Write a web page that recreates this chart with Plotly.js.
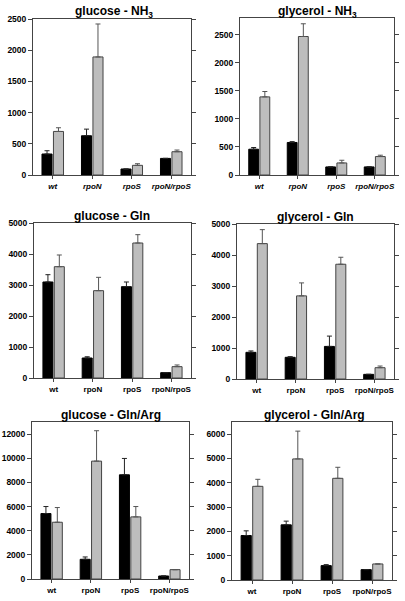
<!DOCTYPE html>
<html>
<head>
<meta charset="utf-8">
<script src="https://cdn.plot.ly/plotly-3.0.1.min.js"></script>
<style>html,body{margin:0;padding:0;background:#fff;}#chart{width:405px;height:601px;}</style>
</head>
<body>
<div id="chart"></div>
<script>
// Categories (strains)
const strains = ["wt", "rpoN", "rpoS", "rpoN/rpoS"];

// Panel titles
const panelTitles = [
  "glucose - NH<sub>3</sub>", "glycerol - NH<sub>3</sub>",
  "glucose - Gln", "glycerol - Gln",
  "glucose - Gln/Arg", "glycerol - Gln/Arg"
];

// Black bars (first series) and upper error amounts
const blackGlucoseNH3 = [336, 629, 96, 266];
const blackGlucoseNH3Err = [53, 106, 0, 0];
const grayGlucoseNH3 = [698, 1892, 155, 373];
const grayGlucoseNH3Err = [59, 528, 26, 27];

const blackGlycerolNH3 = [460, 580, 144, 144];
const blackGlycerolNH3Err = [30, 15, 0, 0];
const grayGlycerolNH3 = [1393, 2470, 215, 329];
const grayGlycerolNH3Err = [96, 227, 48, 24];

const blackGlucoseGln = [3097, 645, 2946, 172];
const blackGlucoseGlnErr = [236, 40, 151, 0];
const grayGlucoseGln = [3591, 2817, 4355, 366];
const grayGlucoseGlnErr = [377, 430, 269, 54];

const blackGlycerolGln = [860, 700, 1051, 150];
const blackGlycerolGlnErr = [45, 20, 333, 0];
const grayGlycerolGln = [4367, 2682, 3702, 365];
const grayGlycerolGlnErr = [451, 418, 225, 53];

const blackGlucoseGlnArg = [5420, 1631, 8627, 249];
const blackGlucoseGlnArgErr = [580, 194, 1355, 0];
const grayGlucoseGlnArg = [4700, 9761, 5143, 774];
const grayGlucoseGlnArgErr = [1217, 2516, 857, 0];

const blackGlycerolGlnArg = [1830, 2270, 592, 427];
const blackGlycerolGlnArgErr = [193, 152, 41, 0];
const grayGlycerolGlnArg = [3853, 4981, 4183, 660];
const grayGlycerolGlnArgErr = [289, 1143, 454, 0];

// Axis tick settings
const yMax = [2500, 2800, 5000, 5000, 13000, 6500];
const yDtick = [500, 500, 1000, 1000, 2000, 1000];

const blackSets = [
  [blackGlucoseNH3, blackGlucoseNH3Err], [blackGlycerolNH3, blackGlycerolNH3Err],
  [blackGlucoseGln, blackGlucoseGlnErr], [blackGlycerolGln, blackGlycerolGlnErr],
  [blackGlucoseGlnArg, blackGlucoseGlnArgErr], [blackGlycerolGlnArg, blackGlycerolGlnArgErr]
];
const graySets = [
  [grayGlucoseNH3, grayGlucoseNH3Err], [grayGlycerolNH3, grayGlycerolNH3Err],
  [grayGlucoseGln, grayGlucoseGlnErr], [grayGlycerolGln, grayGlycerolGlnErr],
  [grayGlucoseGlnArg, grayGlucoseGlnArgErr], [grayGlycerolGlnArg, grayGlycerolGlnArgErr]
];

// Panel pixel boxes [left, right, top, bottom]
const W = 405, H = 601;
const boxes = [
  [33, 191, 19, 175], [240, 394, 18, 175],
  [34, 191, 223, 378], [237, 394, 224, 379],
  [32, 189, 422, 579], [232, 392, 422, 580]
];
const titlePos = [[114, 12], [317, 12], [112, 216], [315, 217], [111, 415], [314, 415]];

const FONT = "Liberation Sans, Arial, sans-serif";
const traces = [];
const layout = {
  width: W, height: H,
  margin: {l: 0, r: 0, t: 0, b: 0},
  paper_bgcolor: "#fff", plot_bgcolor: "#fff",
  showlegend: false,
  barmode: "group",
  bargap: 0.42, bargroupgap: 0.12,
  font: {family: FONT, color: "#000"},
  annotations: []
};

for (let i = 0; i < 6; i++) {
  const n = i + 1;
  const xa = "x" + (n === 1 ? "" : n), ya = "y" + (n === 1 ? "" : n);
  const b = boxes[i];
  const italic = i < 2;
  const labels = strains.map(s => italic ? "<i>" + s + "</i>" : s);
  traces.push({
    type: "bar", x: labels, y: blackSets[i][0], xaxis: xa, yaxis: ya,
    marker: {color: "#000", line: {color: "#000", width: 1}},
    error_y: {type: "data", symmetric: false, array: blackSets[i][1], arrayminus: blackSets[i][0].map(() => 0),
      color: "#222", thickness: 1, width: 2.5},
    hoverinfo: "none"
  });
  traces.push({
    type: "bar", x: labels, y: graySets[i][0], xaxis: xa, yaxis: ya,
    marker: {color: "#bdbdbd", line: {color: "#444", width: 1}},
    error_y: {type: "data", symmetric: false, array: graySets[i][1], arrayminus: graySets[i][0].map(() => 0),
      color: "#555", thickness: 1, width: 2.5},
    hoverinfo: "none"
  });
  const xk = "xaxis" + (n === 1 ? "" : n), yk = "yaxis" + (n === 1 ? "" : n);
  layout[xk] = {
    domain: [b[0] / W, b[1] / W], anchor: ya,
    range: [-0.5, 3.5], type: "category",
    showline: true, linecolor: "#444", linewidth: 1, mirror: true,
    ticks: "outside", ticklen: 3, tickcolor: "#444",
    tickfont: {family: FONT, size: 8, color: "#000", weight: "bold"},
    showgrid: false, zeroline: false, fixedrange: true
  };
  layout[yk] = {
    domain: [1 - b[3] / H, 1 - b[2] / H], anchor: xa,
    range: [0, yMax[i]], dtick: yDtick[i], tick0: 0, tickformat: "d",
    showline: true, linecolor: "#444", linewidth: 1, mirror: "ticks",
    ticks: "outside", ticklen: 4, tickcolor: "#444",
    tickfont: {family: FONT, size: 8.5, color: "#000", weight: "bold"},
    showgrid: false, zeroline: false, fixedrange: true
  };
  layout.annotations.push({
    text: panelTitles[i], xref: "paper", yref: "paper",
    x: titlePos[i][0] / W, y: 1 - titlePos[i][1] / H,
    xanchor: "center", yanchor: "middle", showarrow: false,
    font: {family: FONT, size: 12, color: "#000", weight: "bold"}
  });
}

Plotly.newPlot("chart", traces, layout, {staticPlot: true, displayModeBar: false});
</script>
</body>
</html>
